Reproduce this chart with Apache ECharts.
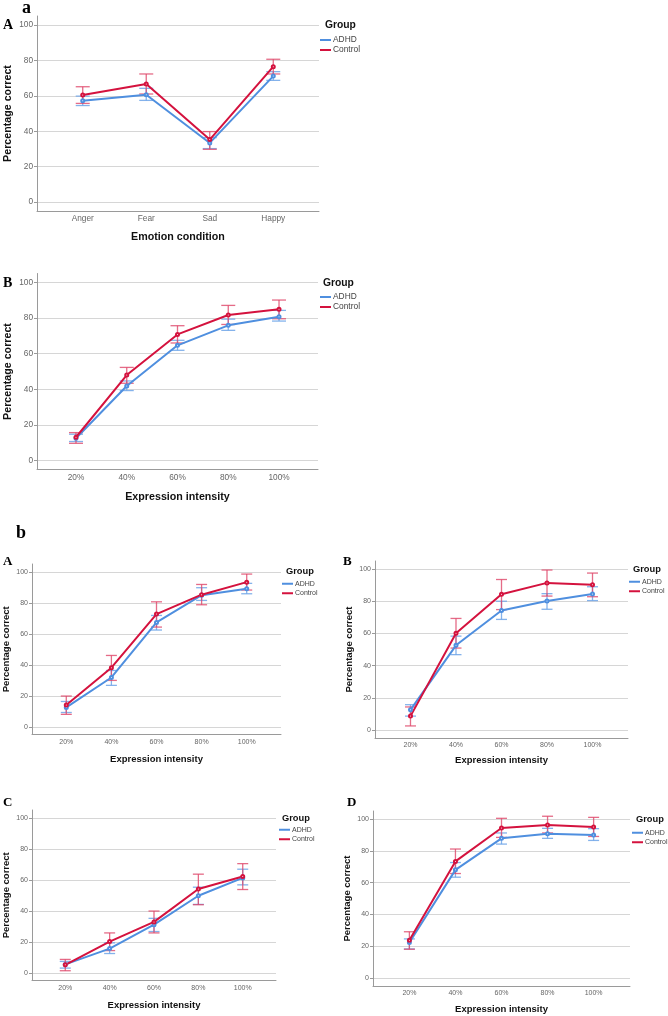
<!DOCTYPE html>
<html>
<head>
<meta charset="utf-8">
<script src="https://cdn.jsdelivr.net/npm/echarts@6/dist/echarts.min.js"></script>
<style>
html, body { margin: 0; padding: 0; background: #fff; }
#main { width: 668px; height: 1016px; }
</style>
</head>
<body>
<div id="main"></div>
<script>
// ==============================
// data
// ==============================

const emotions    = ['Anger', 'Fear', 'Sad', 'Happy'];
const intensities = ['20%', '40%', '60%', '80%', '100%'];
const yTicks      = [0, 20, 40, 60, 80, 100];

// a / A : emotion condition
const aA_adhd   = [57.2, 60.6, 33.4, 71.1];
const aA_adhdLo = [54.5, 57.4, 30.2, 68.7];
const aA_adhdHi = [59.8, 64.2, 36.4, 73.6];
const aA_ctrl   = [60.4, 66.6, 35.3, 76.4];
const aA_ctrlLo = [55.7, 61.0, 29.8, 72.3];
const aA_ctrlHi = [65.1, 72.3, 39.8, 80.6];

// a / B : expression intensity
const aB_adhd   = [12.5, 41.9, 64.7, 75.9, 80.7];
const aB_adhdLo = [10.7, 39.3, 61.9, 73.1, 78.3];
const aB_adhdHi = [14.8, 44.7, 67.5, 79.4, 84.3];
const aB_ctrl   = [13.1, 48.0, 70.8, 81.7, 84.9];
const aB_ctrlLo = [9.7, 43.4, 66.0, 76.4, 79.6];
const aB_ctrlHi = [15.7, 52.3, 75.7, 87.1, 90.1];

// b / A
const bA_adhd   = [12.5, 31.8, 67.3, 84.9, 89.0];
const bA_adhdLo = [9.2, 26.7, 62.4, 81.5, 85.8];
const bA_adhdHi = [16.3, 36.3, 71.8, 89.7, 92.5];
const bA_ctrl   = [14.0, 38.1, 72.7, 85.2, 93.3];
const bA_ctrlLo = [8.0, 29.9, 64.3, 78.7, 88.2];
const bA_ctrlHi = [19.8, 46.0, 80.6, 91.8, 98.5];

// b / B
const bB_adhd   = [12.5, 52.6, 74.2, 80.2, 84.5];
const bB_adhdLo = [8.6, 46.8, 68.7, 75.0, 80.4];
const bB_adhdHi = [15.7, 58.3, 80.0, 84.7, 89.0];
const bB_ctrl   = [8.6, 60.1, 84.3, 91.4, 90.2];
const bB_ctrlLo = [2.5, 50.9, 74.8, 83.2, 82.8];
const bB_ctrlHi = [14.3, 69.3, 93.5, 99.4, 97.5];

// b / C
const bC_adhd   = [5.4, 15.6, 31.0, 49.7, 61.2];
const bC_adhdLo = [3.0, 12.4, 26.6, 44.1, 56.7];
const bC_adhdHi = [7.3, 19.3, 35.1, 55.2, 66.8];
const bC_ctrl   = [5.1, 20.1, 32.8, 54.0, 62.1];
const bC_ctrlLo = [1.3, 14.3, 25.7, 43.9, 53.7];
const bC_ctrlHi = [8.6, 25.7, 39.8, 63.6, 70.4];

// b / D
const bD_adhd   = [22.3, 68.0, 87.8, 90.7, 89.9];
const bD_adhdLo = [18.3, 63.4, 84.2, 87.8, 86.5];
const bD_adhdHi = [24.6, 72.6, 91.2, 94.1, 93.9];
const bD_ctrl   = [23.8, 73.3, 94.3, 96.2, 94.9];
const bD_ctrlLo = [18.1, 65.7, 88.4, 91.2, 89.0];
const bD_ctrlHi = [29.1, 81.1, 100.4, 101.7, 101.0];


// ==============================
// look
// ==============================

const SANS  = '"Liberation Sans", Arial, sans-serif';
const SERIF = '"Liberation Serif", "Times New Roman", serif';

const BLUE     = '#4f8fdf';
const RED      = '#d4123e';
const BLUE_ERR = 'rgba(110,165,232,0.85)';
const RED_ERR  = 'rgba(222,70,105,0.8)';
const AXIS_COL = '#9a9a9a';
const GRID_COL = '#d6d6d6';


// ==============================
// panels (layout only)
// ==============================

const panels = [
    {
        letter: 'A', lx: 3, ly: 25,
        cats: emotions,
        adhd: [aA_adhd, aA_adhdLo, aA_adhdHi],
        ctrl: [aA_ctrl, aA_ctrlLo, aA_ctrlHi],
        left: 37, top: 16, width: 282, height: 195, pad: 0.72,
        xName: 'Emotion condition', xGap: 20.5, yGap: 23,
        groupX: 325, groupY: 25, legX: 320, legY: 35,
        big: true
    },
    {
        letter: 'B', lx: 3, ly: 283,
        cats: intensities,
        adhd: [aB_adhd, aB_adhdLo, aB_adhdHi],
        ctrl: [aB_ctrl, aB_ctrlLo, aB_ctrlHi],
        left: 37, top: 273.5, width: 281, height: 196, pad: 0.768,
        xName: 'Expression intensity', xGap: 22.5, yGap: 23,
        groupX: 323, groupY: 283, legX: 320, legY: 292,
        big: true
    },
    {
        letter: 'A', lx: 3, ly: 562,
        cats: intensities,
        adhd: [bA_adhd, bA_adhdLo, bA_adhdHi],
        ctrl: [bA_ctrl, bA_ctrlLo, bA_ctrlHi],
        left: 31, top: 564, width: 250, height: 170.5, pad: 0.76,
        xName: 'Expression intensity', xGap: 19.5, yGap: 21,
        groupX: 286, groupY: 571, legX: 282, legY: 579,
        big: false
    },
    {
        letter: 'B', lx: 343, ly: 562,
        cats: intensities,
        adhd: [bB_adhd, bB_adhdLo, bB_adhdHi],
        ctrl: [bB_ctrl, bB_ctrlLo, bB_ctrlHi],
        left: 375, top: 561, width: 253, height: 177, pad: 0.78,
        xName: 'Expression intensity', xGap: 17, yGap: 21,
        groupX: 633, groupY: 569, legX: 629, legY: 577,
        big: false
    },
    {
        letter: 'C', lx: 3, ly: 803,
        cats: intensities,
        adhd: [bC_adhd, bC_adhdLo, bC_adhdHi],
        ctrl: [bC_ctrl, bC_ctrlLo, bC_ctrlHi],
        left: 31, top: 810, width: 245, height: 170.5, pad: 0.75,
        xName: 'Expression intensity', xGap: 19.5, yGap: 21,
        groupX: 282, groupY: 818, legX: 279, legY: 825,
        big: false
    },
    {
        letter: 'D', lx: 347, ly: 803,
        cats: intensities,
        adhd: [bD_adhd, bD_adhdLo, bD_adhdHi],
        ctrl: [bD_ctrl, bD_ctrlLo, bD_ctrlHi],
        left: 373, top: 811, width: 257, height: 175, pad: 0.79,
        xName: 'Expression intensity', xGap: 18, yGap: 21,
        groupX: 636, groupY: 819, legX: 632, legY: 828,
        big: false
    }
];


// ==============================
// error bar renderer
// ==============================

function errorBar(color, cap){
    return function(params, api){
        const x  = api.value(0);
        const lo = api.coord([x, api.value(1)]);
        const hi = api.coord([x, api.value(2)]);
        const style = { stroke: color, lineWidth: 1.3 };
        return {
            type: 'group',
            children: [
                { type: 'line', shape: { x1: lo[0], y1: hi[1], x2: lo[0], y2: lo[1] }, style: style },
                { type: 'line', shape: { x1: lo[0] - cap, y1: hi[1], x2: lo[0] + cap, y2: hi[1] }, style: style },
                { type: 'line', shape: { x1: lo[0] - cap, y1: lo[1], x2: lo[0] + cap, y2: lo[1] }, style: style }
            ]
        };
    };
}


// ==============================
// build option
// ==============================

const grid = [], xAxis = [], yAxis = [], series = [], legend = [], graphic = [];

graphic.push({ type: 'text', x: 22, y: 8, style: { text: 'a', font: 'bold 18px ' + SERIF, fill: '#000', verticalAlign: 'middle' } });
graphic.push({ type: 'text', x: 16, y: 533, style: { text: 'b', font: 'bold 18px ' + SERIF, fill: '#000', verticalAlign: 'middle' } });

panels.forEach((p, i) => {

    const tickSize  = p.big ? 8.3 : 7;
    const titleSize = p.big ? 10.7 : 9.5;
    const legSize   = p.big ? 8.4 : 7;
    const groupSize = p.big ? 10.3 : 9.3;
    const cap       = p.big ? 7 : 5.5;

    grid.push({ left: p.left, top: p.top, width: p.width, height: p.height });

    xAxis.push({
        gridIndex: i,
        type: 'value',
        min: -p.pad,
        max: p.cats.length - 1 + p.pad,
        axisLine: { show: true, onZero: false, lineStyle: { color: AXIS_COL } },
        axisTick: { show: false },
        splitLine: { show: false },
        axisLabel: {
            customValues: p.cats.map((c, k) => k),
            formatter: v => p.cats[v],
            color: '#666',
            fontSize: tickSize,
            fontFamily: SANS,
            margin: 4
        },
        name: p.xName,
        nameLocation: 'middle',
        nameGap: p.xGap,
        nameMoveOverlap: false,
        nameTextStyle: { color: '#111', fontWeight: 'bold', fontSize: titleSize, fontFamily: SANS, verticalAlign: 'top' }
    });

    yAxis.push({
        gridIndex: i,
        type: 'value',
        min: -5,
        max: 105,
        axisLine: { show: true, onZero: false, lineStyle: { color: AXIS_COL } },
        axisTick: { show: true, length: 3, customValues: yTicks, lineStyle: { color: AXIS_COL } },
        axisLabel: {
            customValues: yTicks,
            color: '#666',
            fontSize: tickSize,
            fontFamily: SANS,
            margin: 4
        },
        splitLine: { show: true, lineStyle: { color: GRID_COL, width: 1 } },
        name: 'Percentage correct',
        nameLocation: 'middle',
        nameGap: p.yGap,
        nameMoveOverlap: false,
        nameTextStyle: { color: '#111', fontWeight: 'bold', fontSize: titleSize, fontFamily: SANS }
    });

    const groups = [
        { name: 'ADHD',    vals: p.adhd, color: BLUE, err: BLUE_ERR },
        { name: 'Control', vals: p.ctrl, color: RED,  err: RED_ERR }
    ];

    groups.forEach(g => {
        series.push({
            type: 'custom',
            name: g.name + ' CI',
            xAxisIndex: i,
            yAxisIndex: i,
            renderItem: errorBar(g.err, cap),
            encode: { x: 0, y: [1, 2] },
            data: g.vals[1].map((lo, k) => [k, lo, g.vals[2][k]]),
            silent: true,
            z: 2
        });
    });

    groups.forEach(g => {
        series.push({
            type: 'line',
            name: g.name,
            xAxisIndex: i,
            yAxisIndex: i,
            data: g.vals[0].map((v, k) => [k, v]),
            symbol: 'emptyCircle',
            symbolSize: 3,
            lineStyle: { color: g.color, width: 2 },
            itemStyle: { color: g.color, borderWidth: 1 },
            emphasis: { disabled: true },
            animation: false,
            z: 3
        });
    });

    legend.push({
        data: ['ADHD', 'Control'],
        orient: 'vertical',
        left: p.legX,
        top: p.legY,
        padding: 0,
        icon: 'rect',
        itemWidth: 11,
        itemHeight: 2,
        itemGap: 0,
        selectedMode: false,
        textStyle: {
            color: '#444',
            fontSize: legSize,
            fontFamily: SANS,
            lineHeight: p.big ? 10 : 9.5,
            padding: [0, 0, 0, -3]
        }
    });

    graphic.push({
        type: 'text', x: p.lx, y: p.ly,
        style: { text: p.letter, font: 'bold ' + (p.big ? 14 : 13) + 'px ' + SERIF, fill: '#000', verticalAlign: 'middle' }
    });

    graphic.push({
        type: 'text', x: p.groupX, y: p.groupY,
        style: { text: 'Group', font: 'bold ' + groupSize + 'px ' + SANS, fill: '#111', verticalAlign: 'middle' }
    });

});


// ==============================
// chart
// ==============================

const myChart = echarts.init(document.getElementById('main'), null, { renderer: 'canvas' });

myChart.setOption({
    backgroundColor: '#fff',
    animation: false,
    grid: grid,
    xAxis: xAxis,
    yAxis: yAxis,
    legend: legend,
    graphic: graphic,
    series: series
});
</script>
</body>
</html>
